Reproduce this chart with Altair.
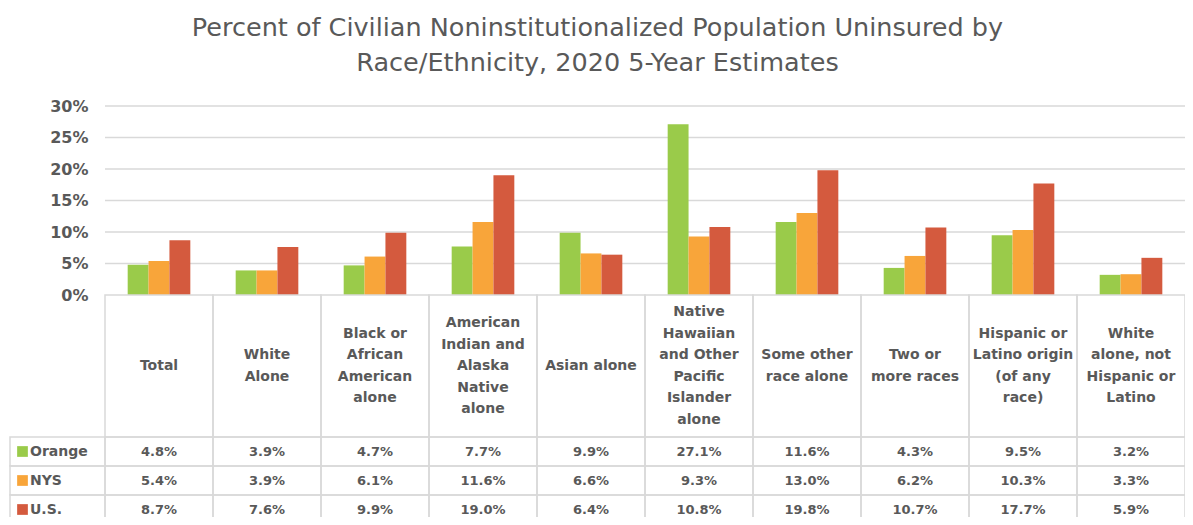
import altair as alt
import pandas as pd

# ---------------- data ----------------
categories = [
    "Total", "White Alone", "Black or African American alone",
    "American Indian and Alaska Native alone", "Asian alone",
    "Native Hawaiian and Other Pacific Islander alone", "Some other race alone",
    "Two or more races", "Hispanic or Latino origin (of any race)",
    "White alone, not Hispanic or Latino",
]
header_labels = [
    ["Total"], ["White", "Alone"], ["Black or", "African", "American", "alone"],
    ["American", "Indian and", "Alaska", "Native", "alone"], ["Asian alone"],
    ["Native", "Hawaiian", "and Other", "Pacific", "Islander", "alone"],
    ["Some other", "race alone"],
    ["Two or", "more races"], ["Hispanic or", "Latino origin", "(of any", "race)"],
    ["White", "alone, not", "Hispanic or", "Latino"],
]
series = ["Orange", "NYS", "U.S."]
orange = [4.8, 3.9, 4.7, 7.7, 9.9, 27.1, 11.6, 4.3, 9.5, 3.2]
nys = [5.4, 3.9, 6.1, 11.6, 6.6, 9.3, 13.0, 6.2, 10.3, 3.3]
us = [8.7, 7.6, 9.9, 19.0, 6.4, 10.8, 19.8, 10.7, 17.7, 5.9]
colors = ["#9ACB4A", "#F8A53A", "#D45A3E"]
y_ticks = [0, 5, 10, 15, 20, 25, 30]
grid_vals = [5, 10, 15, 20, 25, 30]
title_lines = ["Percent of Civilian Noninstitutionalized Population Uninsured by",
               "Race/Ethnicity, 2020 5-Year Estimates"]

# ---------------- tables ----------------
rows = []
for s, vals in zip(series, [orange, nys, us]):
    for c, v in zip(categories, vals):
        rows.append({"category": c, "series": s, "value": v})
df = pd.DataFrame(rows)
df_cat = pd.DataFrame({"category": categories, "header": header_labels})
df_ser = pd.DataFrame({"series": series})
df_grid = pd.DataFrame({"v": grid_vals})

# ---------------- layout (pixels, plot-relative) ----------------
W, H = 1175, 411
TX0, TX1 = 95, 1175          # table / category region
BAR0 = 189                   # 0% baseline
HDR1 = 331                   # bottom of header row
ROW_H = 29
LH = 21.5                    # header line height
FONT = "DejaVu Sans"
TXT = "#595959"
LINE = "#D9D9D9"

x_bar = alt.Scale(domain=categories, range=[TX0, TX1], paddingInner=0.42, paddingOuter=0.21)
x_tab = alt.Scale(domain=categories, range=[TX0, TX1], paddingInner=0, paddingOuter=0)
y_val = alt.Scale(domain=[0, 30], range=[BAR0, 0], nice=False)
y_row = alt.Scale(domain=series, range=[HDR1, HDR1 + ROW_H * 3], paddingInner=0, paddingOuter=0)
y_px = alt.Scale(domain=[0, H], range=[0, H], nice=False, zero=False)
color_scale = alt.Scale(domain=series, range=colors)

grid = alt.Chart(df_grid).mark_rule(color=LINE, strokeWidth=1.5).encode(
    y=alt.Y("v:Q", scale=y_val, axis=None),
    x=alt.value(TX0), x2=alt.value(TX1),
)

bars = alt.Chart(df).mark_bar().encode(
    x=alt.X("category:N", scale=x_bar, axis=None),
    xOffset=alt.XOffset("series:N", scale=alt.Scale(domain=series)),
    y=alt.Y("value:Q", scale=y_val,
            axis=alt.Axis(values=y_ticks, labelExpr="datum.value + '%'", grid=False,
                          domain=False, ticks=False, tickSize=0, offset=-TX0,
                          labelPadding=17, labelFontSize=16, labelFont=FONT,
                          labelFontWeight="bold", labelColor=TXT, title=None)),
    color=alt.Color("series:N", scale=color_scale, legend=None),
)

hdr_cells = alt.Chart(df_cat).mark_rect(fillOpacity=0, stroke=LINE, strokeWidth=1.5).encode(
    x=alt.X("category:N", scale=x_tab, axis=None),
    y=alt.value(BAR0), y2=alt.value(HDR1),
)

data_cells = alt.Chart(df).mark_rect(fillOpacity=0, stroke=LINE, strokeWidth=1.5).encode(
    x=alt.X("category:N", scale=x_tab, axis=None),
    y=alt.Y("series:N", scale=y_row, axis=None),
)

leg_cells = alt.Chart(df_ser).mark_rect(fillOpacity=0, stroke=LINE, strokeWidth=1.5).encode(
    x=alt.value(0), x2=alt.value(TX0),
    y=alt.Y("series:N", scale=y_row, axis=None),
)

swatches = alt.Chart(df_ser).mark_square(size=115, opacity=1).encode(
    x=alt.value(12.5),
    y=alt.Y("series:N", scale=y_row, axis=None),
    color=alt.Color("series:N", scale=color_scale, legend=None),
)

leg_text = alt.Chart(df_ser).mark_text(align="left", baseline="middle", font=FONT,
                                       fontSize=14, fontWeight="bold", color=TXT).encode(
    x=alt.value(20),
    y=alt.Y("series:N", scale=y_row, axis=None),
    text="series:N",
)

val_text = alt.Chart(df).transform_calculate(
    label="format(datum.value, '.1f') + '%'"
).mark_text(align="center", baseline="middle", font=FONT, fontSize=13,
            fontWeight="bold", color=TXT).encode(
    x=alt.X("category:N", scale=x_tab, axis=None),
    y=alt.Y("series:N", scale=y_row, axis=None),
    text="label:N",
)

# first line's position so that the whole block is centred in the header row
hdr_text = alt.Chart(df_cat).transform_calculate(
    ypos=f"{(BAR0 + HDR1) / 2} - (length(datum.header) - 1) * {LH} / 2"
).mark_text(align="center", baseline="middle", lineHeight=LH, font=FONT, fontSize=14,
            fontWeight="bold", color=TXT).encode(
    x=alt.X("category:N", scale=x_tab, axis=None),
    y=alt.Y("ypos:Q", scale=y_px, axis=None),
    text=alt.Text("header"),
)

chart = alt.layer(
    grid, bars, hdr_cells, data_cells, leg_cells, swatches, leg_text, val_text, hdr_text
).resolve_scale(
    x="independent", y="independent"
).properties(
    width=W, height=H,
    autosize=alt.AutoSizeParams(type="none"),
    padding={"left": 2, "top": 98, "right": 0, "bottom": 0},
    title=alt.TitleParams(text=title_lines, font=FONT, fontSize=25.5, fontWeight="normal",
                          color=TXT, lineHeight=35, anchor="middle", frame="group",
                          offset=22),
).configure_view(stroke="transparent")

chart.save("out.html", embed_options={"renderer": "svg", "actions": False})
